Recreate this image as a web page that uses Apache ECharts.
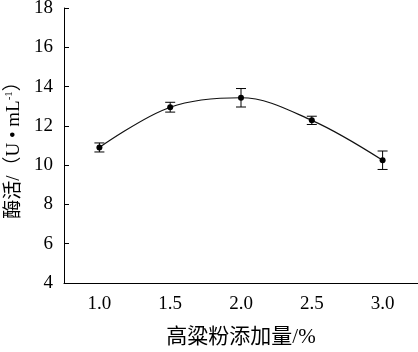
<!DOCTYPE html>
<html><head><meta charset="utf-8">
<script src="https://cdn.jsdelivr.net/npm/echarts@6/dist/echarts.min.js"></script>
<style>html,body{margin:0;padding:0;background:#fff}#c{width:418px;height:352px}</style>
</head><body><div id="c"></div>
<script>
var categories = ['1.0', '1.5', '2.0', '2.5', '3.0'];
var activity = [10.9, 12.95, 13.43, 12.28, 10.25];
var errors = [0.23, 0.25, 0.47, 0.21, 0.47];
var yTicks = [4, 6, 8, 10, 12, 14, 16, 18];

var serif = '"Liberation Serif", "Times New Roman", "Noto Sans CJK SC", serif';
var chart = echarts.init(document.getElementById('c'), null, {renderer: 'canvas'});
chart.setOption({
  animation: false,
  grid: {left: 64, right: 0, top: 8, bottom: 69, containLabel: false, outerBoundsMode: 'none'},
  xAxis: {
    type: 'category', data: categories, boundaryGap: true,
    name: '高粱粉添加量/%', nameLocation: 'middle', nameGap: 44,
    nameTextStyle: {fontFamily: serif, fontSize: 21, color: '#000'},
    axisLine: {lineStyle: {color: '#000', width: 1}},
    axisTick: {inside: true, alignWithLabel: true, length: 5, lineStyle: {color: '#000'}},
    axisLabel: {fontFamily: serif, fontSize: 19, color: '#000', margin: 12}
  },
  yAxis: {
    type: 'value', min: yTicks[0], max: yTicks[yTicks.length - 1], interval: 2,
    name: '{a|酶活/（U • mL}{s|-1}{a|）}', nameLocation: 'middle', nameGap: 40,
    nameTextStyle: {
      color: '#000',
      rich: {
        a: {fontFamily: serif, fontSize: 19, color: '#000'},
        s: {fontFamily: serif, fontSize: 11, color: '#000', verticalAlign: 'top', padding: [0, 0, 8, 0]}
      }
    },
    splitLine: {show: false},
    axisLine: {show: true, lineStyle: {color: '#000', width: 1}},
    axisTick: {show: true, inside: true, length: 5, lineStyle: {color: '#000'}},
    axisLabel: {fontFamily: serif, fontSize: 19, color: '#000', margin: 11}
  },
  series: [
    {
      type: 'line', data: activity, smooth: 0.35,
      symbol: 'circle', symbolSize: 6,
      itemStyle: {color: '#000'},
      lineStyle: {color: '#111', width: 1.2}
    },
    {
      type: 'custom',
      data: activity.map(function (v, i) { return [i, v, errors[i]]; }),
      renderItem: function (params, api) {
        var x = api.value(0), v = api.value(1), e = api.value(2);
        var top = api.coord([x, v + e]);
        var bot = api.coord([x, v - e]);
        var w = 5;
        var st = {stroke: '#000', lineWidth: 1};
        return {type: 'group', children: [
          {type: 'line', shape: {x1: top[0], y1: top[1], x2: bot[0], y2: bot[1]}, style: st},
          {type: 'line', shape: {x1: top[0] - w, y1: top[1], x2: top[0] + w, y2: top[1]}, style: st},
          {type: 'line', shape: {x1: bot[0] - w, y1: bot[1], x2: bot[0] + w, y2: bot[1]}, style: st}
        ]};
      },
      z: 3
    }
  ]
});
</script></body></html>
